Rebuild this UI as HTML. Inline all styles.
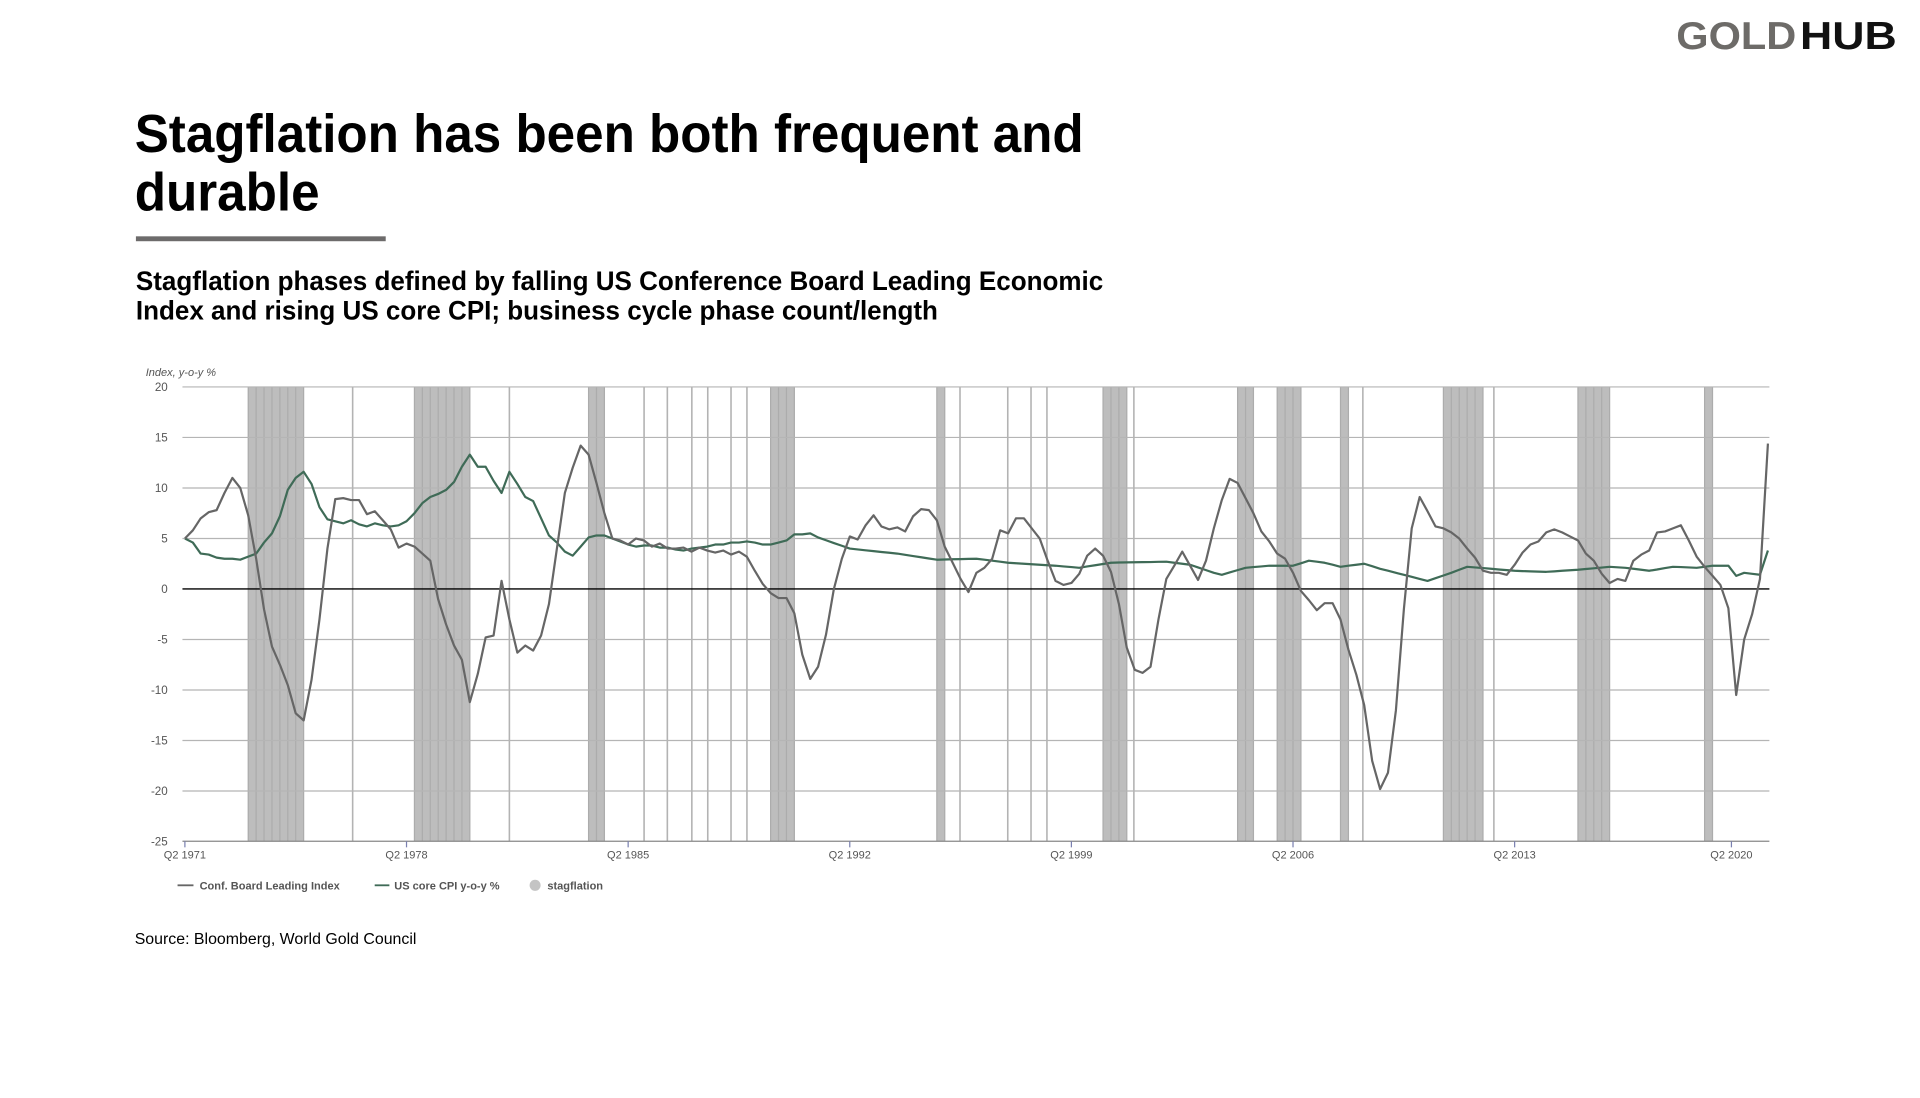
<!DOCTYPE html>
<html><head><meta charset="utf-8">
<style>html,body{margin:0;padding:0;background:#fff;}svg{display:block;}</style>
</head><body>
<svg id="s" width="1920" height="1098" viewBox="0 0 1568 896.7" preserveAspectRatio="none" xmlns="http://www.w3.org/2000/svg" font-family="Liberation Sans, Arial, sans-serif">
<text x="1369" y="40" font-size="32" font-weight="bold" fill="#6d6b68" textLength="98" lengthAdjust="spacingAndGlyphs">GOLD</text>
<text x="1470" y="40" font-size="32" font-weight="bold" fill="#111" textLength="79" lengthAdjust="spacingAndGlyphs">HUB</text>
<text x="110" y="124" font-size="44" font-weight="bold" fill="#000" textLength="775" lengthAdjust="spacingAndGlyphs">Stagflation has been both frequent and</text>
<text x="110" y="172" font-size="44" font-weight="bold" fill="#000" textLength="151" lengthAdjust="spacingAndGlyphs">durable</text>
<rect x="111" y="193" width="204" height="4" fill="#6d6b6b"/>
<text x="111" y="237" font-size="22" font-weight="bold" fill="#000" textLength="790" lengthAdjust="spacingAndGlyphs">Stagflation phases defined by falling US Conference Board Leading Economic</text>
<text x="111" y="261" font-size="22" font-weight="bold" fill="#000" textLength="655" lengthAdjust="spacingAndGlyphs">Index and rising US core CPI; business cycle phase count/length</text>
<text x="119" y="307" font-size="9" font-style="italic" fill="#555">Index, y-o-y %</text>
<g id="bands"></g>
<g id="grid"></g>
<g id="lines"></g>
<g font-size="9.5" fill="#555">
<line x1="145" y1="723" x2="158" y2="723" stroke="#666" stroke-width="1.5"/>
<text x="163" y="726.5" font-weight="bold" font-size="9" fill="#555">Conf. Board Leading Index</text>
<line x1="306" y1="723" x2="318" y2="723" stroke="#3f6b57" stroke-width="1.5"/>
<text x="322" y="726.5" font-weight="bold" font-size="9" fill="#555">US core CPI y-o-y %</text>
<circle cx="437" cy="723" r="4.5" fill="#c4c4c4"/>
<text x="447" y="726.5" font-weight="bold" font-size="9" fill="#555">stagflation</text>
</g>
<text x="110" y="771" font-size="13" fill="#000">Source: Bloomberg, World Gold Council</text>
</svg>
<script>
var NS="http://www.w3.org/2000/svg";
function el(p,t,a,txt){var e=document.createElementNS(NS,t);for(var k in a)e.setAttribute(k,a[k]);if(txt!=null)e.textContent=txt;p.appendChild(e);return e;}
var X0=151,DX=6.464,L=149,R=1445;
function X(i){return X0+i*DX;}
function Y(v){return 481-v*8.25;}
var bands=document.getElementById('bands'),grid=document.getElementById('grid'),lines=document.getElementById('lines');
var B=[[8,14],[29,35],[51,52],[74,76],[95,95],[116,118],[133,134],[138,140],[146,146],[159,163],[176,179],[192,192]];
B.forEach(function(b){
 el(bands,'rect',{x:X(b[0]),y:316,width:(b[1]-b[0]+1)*DX,height:371,fill:'#bdbdbd'});
 for(var q=b[0];q<=b[1]+1;q++)el(bands,'line',{x1:X(q),y1:316,x2:X(q),y2:687,stroke:'#acacac','stroke-width':1});
});
[288,416,526,545,565,578,597,610,784,823,842,855,926,1113,1220].forEach(function(x){
 el(bands,'line',{x1:x,y1:316,x2:x,y2:687,stroke:'#b3b3b3','stroke-width':1.3});
});
for(var v=20;v>=-25;v-=5){
 var y=Y(v);
 if(v!==0&&v!==-25)el(grid,'line',{x1:L,y1:y,x2:R,y2:y,stroke:'#b5b5b5','stroke-width':1});
 el(grid,'text',{x:137,y:y+3.3,'font-size':9.5,fill:'#555','text-anchor':'end'},String(v));
}
el(grid,'line',{x1:L,y1:Y(0),x2:R,y2:Y(0),stroke:'#000','stroke-width':1.1});
el(grid,'line',{x1:L,y1:687,x2:R,y2:687,stroke:'#888','stroke-width':1});
[[0,'Q2 1971'],[28,'Q2 1978'],[56,'Q2 1985'],[84,'Q2 1992'],[112,'Q2 1999'],[140,'Q2 2006'],[168,'Q2 2013'],[196,'Q2 2020']].forEach(function(t){
 var x=X(t[0]);if(t[0]==196)x=1414;
 el(grid,'line',{x1:x,y1:687,x2:x,y2:692,stroke:'#7a80b0','stroke-width':1});
 el(grid,'text',{x:x,y:701,'font-size':9,fill:'#555','text-anchor':'middle'},t[1]);
});
var g=[5,5.8,7,7.6,7.8,9.5,11,10,7.3,3,-2,-5.7,-7.5,-9.5,-12.3,-13,-9,-3,4,8.9,9,8.8,8.8,7.4,7.7,6.8,5.9,4.1,4.5,4.2,3.5,2.8,-1,-3.5,-5.6,-7,-11.2,-8.4,-4.8,-4.6,0.8,-3,-6.3,-5.6,-6.1,-4.6,-1.5,4,9.5,12,14.2,13.3,10.5,7.5,5,4.8,4.4,5,4.8,4.2,4.5,4,4,4.1,3.7,4.1,3.8,3.6,3.8,3.4,3.7,3.2,1.8,0.5,-0.4,-0.9,-0.9,-2.4,-6.5,-8.9,-7.7,
-4.5,0,3,5.2,4.9,6.3,7.3,6.2,5.9,6.1,5.7,7.2,7.9,7.8,6.8,4.2,2.6,1,-0.3,1.6,2.1,3,5.8,5.5,7,7,6,5,2.8,0.8,0.4,0.6,1.5,3.3,4,3.3,1.7,-1.5,-5.8,-8,-8.3,-7.7,-3,1,2.3,3.7,2.3,0.9,2.8,6,8.8,10.9,10.5,9,7.5,5.7,4.7,3.5,3,1.6,-0.2,-1.1,-2.1,-1.4,-1.4,-3,-6,-8.5,-11.5,-17,-19.8,-18.2,-12,-2,6,9.1,7.7,6.2,6,5.6,5,4,3.1,1.8,1.6,1.6,1.4,2.4,3.6,4.4,4.7,5.6,5.9,5.6,5.2,4.8,3.5,2.8,1.5,0.6,1,0.8,2.8,3.4,3.8,5.6,5.7,6,6.3,4.8,3.2,2.2,1.3,0.4,-1.9,-10.5,-5,-2.5,1,14.4];
var c0=[5,4.6,3.5,3.4,3.1,3,3,2.9,3.2,3.5,4.6,5.5,7.2,9.8,11,11.6,10.4,8.1,6.9,6.7,6.5,6.8,6.4,6.2,6.5,6.3,6.2,6.3,6.7,7.5,8.5,9.1,9.4,9.8,10.6,12.1,13.3,12.1,12.1,10.7,9.5,11.6,10.4,9.1,8.7,7,5.3,4.6,3.7,3.3,4.2,5.1,5.3,5.3,5,4.7,4.4,4.2,4.3,4.3,4.1,4.1,3.9,3.8,4,4.1,4.2,4.4,4.4,4.6,4.6,4.7,4.6,4.4,4.4,4.6,4.8,5.4,5.4,5.5,5.1];
var kp=[[80,5.1],[84,4.0],[90,3.5],[95,2.9],[100,3.0],[104,2.6],[110,2.3],[113,2.1],[117,2.6],[124,2.7],[127,2.4],[130,1.6],[131,1.4],[134,2.1],[137,2.3],[140,2.3],[142,2.8],[144,2.6],[146,2.2],[149,2.5],[151,2.0],[153,1.6],[156,1.0],[157,0.8],[160,1.6],[162,2.2],[165,2.0],[168,1.8],[172,1.7],[176,1.9],[180,2.2],[182,2.1],[185,1.8],[188,2.2],[191,2.1],[193,2.3],[195,2.3],[196,1.3],[197,1.6],[199,1.4],[200,3.8]];
var c=c0.slice();
for(var i=81;i<=200;i++){for(var k=0;k<kp.length-1;k++){if(i>=kp[k][0]&&i<=kp[k+1][0]){var t=(i-kp[k][0])/(kp[k+1][0]-kp[k][0]);c[i]=kp[k][1]+t*(kp[k+1][1]-kp[k][1]);break;}}}
function path(a){return a.map(function(v,i){return (i?'L':'M')+X(i).toFixed(1)+','+Y(v).toFixed(1);}).join('');}
el(lines,'path',{d:path(c),fill:'none',stroke:'#3f6b57','stroke-width':1.8,'stroke-linejoin':'round'});
el(lines,'path',{d:path(g),fill:'none',stroke:'#666','stroke-width':1.8,'stroke-linejoin':'round'});
</script>
</body></html>
